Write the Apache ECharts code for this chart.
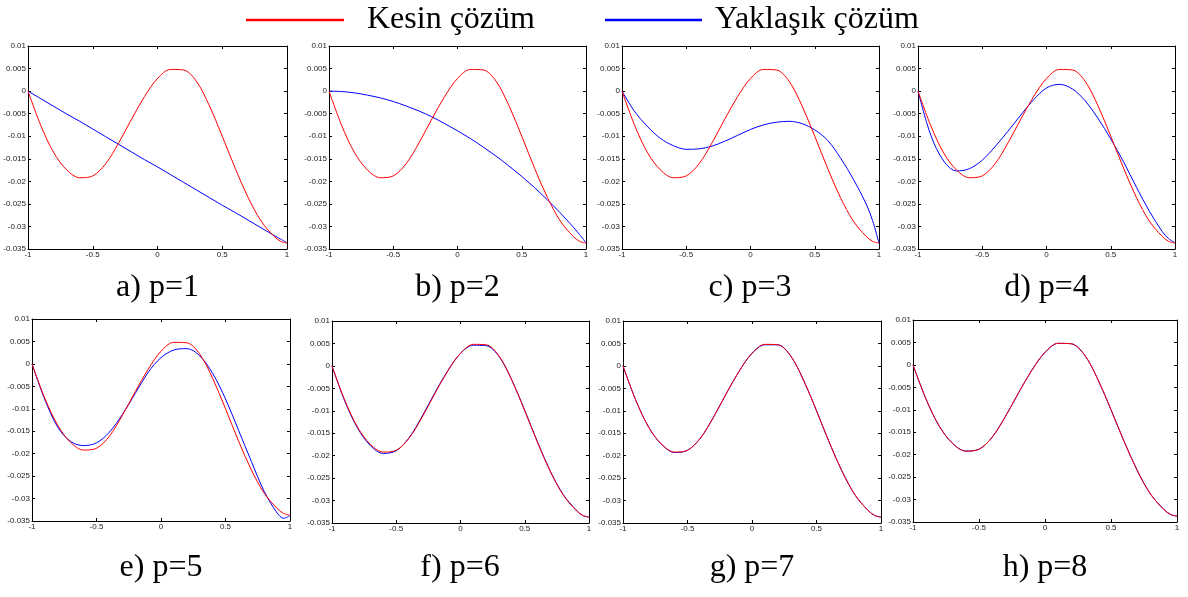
<!DOCTYPE html>
<html>
<head>
<meta charset="utf-8">
<script src="https://cdn.jsdelivr.net/npm/echarts@6/dist/echarts.min.js"></script>
<style>
  html, body { margin: 0; padding: 0; background: #ffffff; }
  #chart { width: 1188px; height: 597px; }
</style>
</head>
<body>
<div id="chart"></div>
<script>
// Sample positions along x in [-1, 1]
const xs = [-1, -0.9, -0.8, -0.7, -0.6, -0.5, -0.4, -0.3, -0.2, -0.1, 0,
            0.1, 0.2, 0.3, 0.4, 0.5, 0.6, 0.7, 0.8, 0.9, 0.95, 1];

// Exact solution
const exact = [0, -0.0077, -0.0137, -0.0175, -0.0192, -0.0188, -0.0161, -0.0115, -0.0062, -0.0012, 0.0028,
               0.0048, 0.0047, 0.0022, -0.0032, -0.0100, -0.0171, -0.0236, -0.0288, -0.0322, -0.0333, -0.0337];

// Approximate solutions for p = 1 ... 8
const approxP1 = [0, -0.0017, -0.0034, -0.0051, -0.0067, -0.0084, -0.0101, -0.0118, -0.0135, -0.0152, -0.0168,
                  -0.0185, -0.0202, -0.0219, -0.0236, -0.0253, -0.0269, -0.0286, -0.0303, -0.0320, -0.0328, -0.0336];
const approxP2 = [0, -0.0001, -0.0004, -0.0009, -0.0015, -0.0023, -0.0033, -0.0044, -0.0057, -0.0072, -0.0088,
                  -0.0105, -0.0124, -0.0144, -0.0166, -0.0189, -0.0214, -0.0241, -0.0270, -0.0301, -0.0318, -0.0336];
const approxP3 = [0, -0.0046, -0.0079, -0.0105, -0.0121, -0.0129, -0.0128, -0.0122, -0.0111, -0.0098, -0.0085,
                  -0.0075, -0.0069, -0.0067, -0.0072, -0.0086, -0.0109, -0.0148, -0.0195, -0.0250, -0.0287, -0.0337];
const approxP4 = [0, -0.0098, -0.0155, -0.0177, -0.0172, -0.0153, -0.0123, -0.0089, -0.0053, -0.0019, 0.0007,
                  0.0015, 0.0005, -0.0021, -0.0060, -0.0106, -0.0157, -0.0213, -0.0266, -0.0311, -0.0327, -0.0336];
const approxP5 = [0, -0.0080, -0.0141, -0.0173, -0.0182, -0.0176, -0.0152, -0.0113, -0.0066, -0.0019, 0.0014,
                  0.0031, 0.0034, 0.0018, -0.0021, -0.0078, -0.0147, -0.0217, -0.0284, -0.0332, -0.0344, -0.0338];
const approxP6 = [0, -0.0079, -0.0139, -0.0178, -0.0195, -0.0189, -0.0160, -0.0113, -0.0060, -0.0011, 0.0028,
                  0.0046, 0.0045, 0.0021, -0.0032, -0.0099, -0.0170, -0.0235, -0.0287, -0.0321, -0.0333, -0.0337];
const approxP7 = [0, -0.0077, -0.0137, -0.0175, -0.0193, -0.0188, -0.0161, -0.0115, -0.0062, -0.0012, 0.0028,
                  0.0047, 0.0047, 0.0022, -0.0032, -0.0100, -0.0171, -0.0236, -0.0288, -0.0322, -0.0333, -0.0337];
const approxP8 = [0, -0.0077, -0.0137, -0.0175, -0.0192, -0.0188, -0.0161, -0.0115, -0.0062, -0.0012, 0.0028,
                  0.0048, 0.0047, 0.0022, -0.0032, -0.0100, -0.0171, -0.0236, -0.0288, -0.0322, -0.0333, -0.0337];
const approxAll = [approxP1, approxP2, approxP3, approxP4, approxP5, approxP6, approxP7, approxP8];

// Panel captions and series names
const panelTitles = ['a) p=1', 'b) p=2', 'c) p=3', 'd) p=4', 'e) p=5', 'f) p=6', 'g) p=7', 'h) p=8'];
const exactName = 'Kesin çözüm';
const approxName = 'Yaklaşık çözüm';

// Axis ranges
const X_MIN = -1, X_MAX = 1, X_STEP = 0.5;
const Y_MIN = -0.035, Y_MAX = 0.01, Y_STEP = 0.005;

// Panel boxes (pixels) and caption placement
const panels = [
  { left: 28,  top: 46,  width: 259, height: 203, cx: 157.5, ty: 272 },
  { left: 329, top: 46,  width: 257, height: 203, cx: 457.5, ty: 272 },
  { left: 622, top: 46,  width: 257, height: 203, cx: 750,   ty: 272 },
  { left: 918, top: 46,  width: 257, height: 203, cx: 1046.5, ty: 272 },
  { left: 32,  top: 319, width: 258, height: 202, cx: 161,   ty: 552 },
  { left: 332, top: 321, width: 257, height: 202, cx: 460,   ty: 552 },
  { left: 623, top: 321, width: 258, height: 202, cx: 752,   ty: 552 },
  { left: 913, top: 320, width: 264, height: 202, cx: 1045,  ty: 552 }
];

const SERIF = "'Liberation Serif', 'Times New Roman', serif";
const SANS = "'Liberation Sans', Arial, Helvetica, sans-serif";

const frameLine = { show: true, onZero: false, lineStyle: { color: '#000', width: 1 } };
const innerTick = { show: true, inside: true, length: 3, lineStyle: { color: '#000', width: 1 } };
const tickLabel = { fontSize: 8, color: '#222', fontFamily: SANS, margin: 2 };
const SMOOTH = 0.33;

const grids = [], xAxes = [], yAxes = [], series = [], titles = [];

panels.forEach((p, i) => {
  grids.push({ left: p.left, top: p.top, width: p.width, height: p.height });

  xAxes.push({
    gridIndex: i, type: 'value', position: 'bottom',
    min: X_MIN, max: X_MAX, interval: X_STEP,
    axisLine: frameLine, axisTick: innerTick,
    axisLabel: Object.assign({ showMinLabel: true, showMaxLabel: true }, tickLabel),
    splitLine: { show: false }
  });
  xAxes.push({
    gridIndex: i, type: 'value', position: 'top',
    min: X_MIN, max: X_MAX, interval: X_STEP,
    axisLine: frameLine, axisTick: innerTick,
    axisLabel: { show: false }, splitLine: { show: false }
  });
  yAxes.push({
    gridIndex: i, type: 'value', position: 'left',
    min: Y_MIN, max: Y_MAX, interval: Y_STEP,
    axisLine: frameLine, axisTick: innerTick,
    axisLabel: Object.assign({ showMinLabel: true, showMaxLabel: true }, tickLabel),
    splitLine: { show: false }
  });
  yAxes.push({
    gridIndex: i, type: 'value', position: 'right',
    min: Y_MIN, max: Y_MAX, interval: Y_STEP,
    axisLine: frameLine, axisTick: innerTick,
    axisLabel: { show: false }, splitLine: { show: false }
  });

  const approx = approxAll[i];
  series.push({
    name: approxName, type: 'line',
    xAxisIndex: 2 * i, yAxisIndex: 2 * i,
    data: xs.map((x, k) => [x, approx[k]]),
    symbol: 'none', showSymbol: false, smooth: SMOOTH,
    lineStyle: { color: '#0000ff', width: 1 },
    itemStyle: { color: '#0000ff' },
    animation: false, silent: true
  });
  series.push({
    name: exactName, type: 'line',
    xAxisIndex: 2 * i, yAxisIndex: 2 * i,
    data: xs.map((x, k) => [x, exact[k]]),
    symbol: 'none', showSymbol: false, smooth: SMOOTH,
    lineStyle: { color: '#ff0000', width: 1 },
    itemStyle: { color: '#ff0000' },
    animation: false, silent: true
  });

  titles.push({
    text: panelTitles[i], left: p.cx, top: p.ty, textAlign: 'center', padding: 0,
    textStyle: { fontFamily: SERIF, fontSize: 32, fontWeight: 'normal', color: '#000', lineHeight: 32 }
  });
});

const legendText = (padLeft) => ({
  fontFamily: SERIF, fontSize: 32, color: '#000', lineHeight: 32, padding: [0, 0, 0, padLeft]
});

const option = {
  animation: false,
  backgroundColor: '#ffffff',
  title: titles,
  legend: [
    { data: [exactName], left: 246, top: 4, padding: 0, icon: 'rect', itemWidth: 98, itemHeight: 2.5,
      selectedMode: false, textStyle: legendText(18) },
    { data: [approxName], left: 605, top: 4, padding: 0, icon: 'rect', itemWidth: 97, itemHeight: 2.5,
      selectedMode: false, textStyle: legendText(8) }
  ],
  grid: grids,
  xAxis: xAxes,
  yAxis: yAxes,
  series: series
};

const chart = echarts.init(document.getElementById('chart'), null, { renderer: 'canvas' });
chart.setOption(option);
</script>
</body>
</html>
